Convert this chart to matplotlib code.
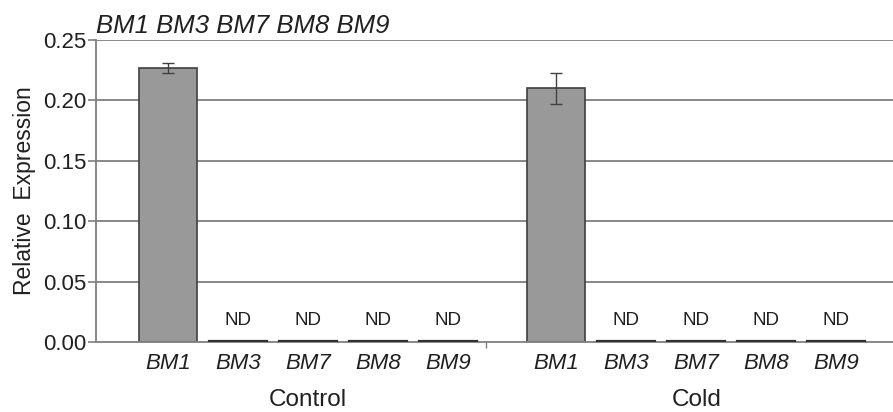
import numpy as np
import matplotlib.pyplot as plt

plt.rcParams['font.family'] = ['Liberation Sans', 'DejaVu Sans']

genes = ['BM1', 'BM3', 'BM7', 'BM8', 'BM9']
groups = ['Control', 'Cold']
control_vals = [0.227, 0.0, 0.0, 0.0, 0.0]
control_err = [0.004, 0, 0, 0, 0]
cold_vals = [0.210, 0.0, 0.0, 0.0, 0.0]
cold_err = [0.013, 0, 0, 0, 0]
detected = [True, False, False, False, False]
yticks = [0.00, 0.05, 0.10, 0.15, 0.20, 0.25]

fig = plt.figure(figsize=(8.93, 4.12), dpi=100)
ax = fig.add_axes([96 / 893, 70 / 412, 1 - 96 / 893, 302 / 412])

gap = 1.55
x_ctrl = np.arange(len(genes))
x_cold = x_ctrl + len(genes) + gap - 1
w = 0.83

for y in yticks[1:]:
    ax.axhline(y, color='#7f7f7f', lw=1.3, zorder=0)

for xs, vals, errs in [(x_ctrl, control_vals, control_err), (x_cold, cold_vals, cold_err)]:
    for xi, v, e, d in zip(xs, vals, errs, detected):
        if d:
            ax.bar(xi, v, w, color='#999999', edgecolor='#404040', lw=1.2, zorder=2)
            ax.errorbar(xi, v, yerr=e, fmt='none', ecolor='#404040', elinewidth=1,
                        capsize=4, capthick=1, zorder=3)
        else:
            ax.plot([xi - w / 2, xi + w / 2], [0.0012, 0.0012], color='#303030', lw=1.6, zorder=3)
            ax.text(xi, 0.018, 'ND', ha='center', va='center', fontsize=13.5, color='#202020')

ax.set_ylim(0, 0.25)
ax.set_xlim(-1.03, 10.36)
ax.set_yticks(yticks)
ax.set_yticklabels(['%.2f' % t for t in yticks], fontsize=16, color='#202020')
ax.tick_params(axis='y', length=6, width=1.2, color='#7f7f7f', pad=1)

ax.set_xticks(list(x_ctrl) + list(x_cold))
ax.set_xticklabels(genes + genes, fontsize=16, style='italic', color='#202020')
ax.tick_params(axis='x', length=0, pad=8)
ax.set_xticks([(x_ctrl[-1] + x_cold[0]) / 2 - 0.23], minor=True)
ax.tick_params(axis='x', which='minor', length=4, width=1, color='#7f7f7f')

for s in ['top', 'right']:
    ax.spines[s].set_visible(False)
ax.spines['left'].set_color('#7f7f7f')
ax.spines['left'].set_linewidth(1.3)
ax.spines['bottom'].set_color('#7f7f7f')
ax.spines['bottom'].set_linewidth(1.3)

ax.text(np.mean(x_ctrl), -0.048, groups[0], ha='center', va='center', fontsize=17.5,
        color='#202020', clip_on=False)
ax.text(np.mean(x_cold), -0.048, groups[1], ha='center', va='center', fontsize=17.5,
        color='#202020', clip_on=False)

ax.set_ylabel('Relative  Expression', fontsize=16.5, color='#202020', labelpad=5)
ax.text(0.0, 1.023, ' '.join(genes), transform=ax.transAxes, ha='left', va='baseline',
        fontsize=18.5, style='italic', color='#202020')

fig.savefig('out.png', dpi=100)
